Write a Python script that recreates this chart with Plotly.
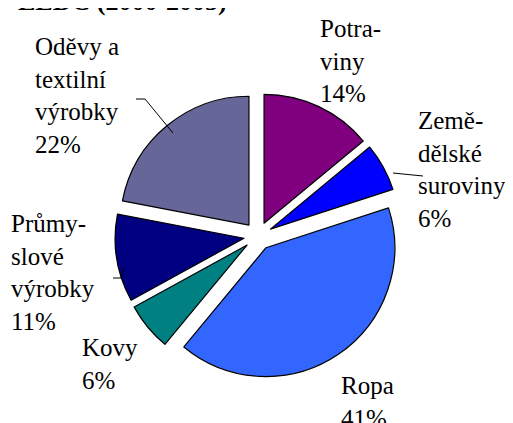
import plotly.graph_objects as go

W, H = 513, 423

# data
labels = ["Potraviny", "Zemědělské suroviny", "Ropa", "Kovy",
          "Průmyslové výrobky", "Oděvy a textilní výrobky"]
label_text = ["Potra-<br>viny", "Země-<br>dělské<br>suroviny", "Ropa", "Kovy",
              "Průmy-<br>slové<br>výrobky", "Oděvy a<br>textilní<br>výrobky"]
values = [14, 6, 41, 6, 11, 22]
colors = ["#800080", "#0000FF", "#3366FF", "#008080", "#000080", "#666699"]

# label placement (px, left edge / top of text box)
label_pos = [(310, 5), (408, 97), (331, 362), (72, 324), (1, 200), (25, 23)]


def px(x):
    return x / W


def py(y):
    return 1 - y / H


cx, cy, rr = 250, 228, 143

fig = go.Figure(go.Pie(
    values=values, sort=False, direction="clockwise",
    rotation=0, pull=[0.11] * len(values),
    marker=dict(colors=colors, line=dict(color="black", width=1.2)),
    textinfo="none", showlegend=False, hovertext=labels,
    domain=dict(x=[px(cx - rr), px(cx + rr)], y=[py(cy + rr), py(cy - rr)]),
))

tot = sum(values)
for t, v, (lx, ly) in zip(label_text, values, label_pos):
    fig.add_annotation(text=f"{t}<br>{round(100 * v / tot)}%", x=px(lx), y=py(ly),
                       xref="paper", yref="paper", xanchor="left", yanchor="top",
                       showarrow=False, align="left",
                       font=dict(family="Liberation Serif", size=25, color="black"))

fig.add_annotation(text="<b>LEDC (2000-2005)</b>", x=px(8), y=py(10),
                   xref="paper", yref="paper", xanchor="left", yanchor="bottom",
                   showarrow=False,
                   font=dict(family="Liberation Serif", size=26, color="black"))

# leader lines
leaders = [
    [(128, 91), (137, 91), (165, 125)],
    [(385, 165), (415, 168)],
    [(105, 270), (113, 270), (116, 260)],
]
for pts in leaders:
    path = "M " + " L ".join(f"{px(a)},{py(b)}" for a, b in pts)
    fig.add_shape(type="path", path=path, xref="paper", yref="paper",
                  line=dict(color="black", width=1))

fig.update_layout(width=W, height=H, margin=dict(l=0, r=0, t=0, b=0))
fig.write_html("out.html")
